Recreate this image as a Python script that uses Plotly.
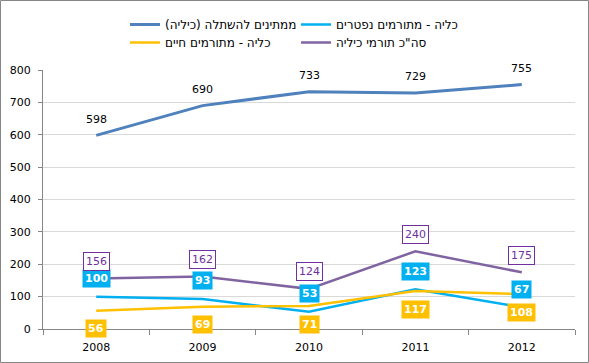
import plotly.graph_objects as go

years = ["2008", "2009", "2010", "2011", "2012"]
waiting = [598, 690, 733, 729, 755]
deceased = [100, 93, 53, 123, 67]
living = [56, 69, 71, 117, 108]
total = [156, 162, 124, 240, 175]

names = [
    "ממתינים להשתלה (כיליה)\u200f",
    "כליה - מתורמים נפטרים",
    "כליה - מתורמים חיים",
    "סה\"כ תורמי כיליה",
]

C_DARK = "#4F81BD"
C_LIGHT = "#00B0F0"
C_YEL = "#FFC000"
C_PUR = "#8064A2"
C_PUR_TXT = "#7030A0"
FONT = "DejaVu Sans"

W, H = 589, 363
ML, MR, MT, MB = 43, 14, 70, 34
PW, PH = W - ML - MR, H - MT - MB

fig = go.Figure()
fig.add_trace(go.Scatter(x=years, y=waiting, name=names[0], mode="lines",
                         line=dict(color=C_DARK, width=3), legend="legend"))
fig.add_trace(go.Scatter(x=years, y=deceased, name=names[1], mode="lines",
                         line=dict(color=C_LIGHT, width=2.5), legend="legend"))
fig.add_trace(go.Scatter(x=years, y=living, name=names[2], mode="lines",
                         line=dict(color=C_YEL, width=2.5), legend="legend2"))
fig.add_trace(go.Scatter(x=years, y=total, name=names[3], mode="lines",
                         line=dict(color=C_PUR, width=2.5), legend="legend2"))

ann = []
for i, v in enumerate(waiting):
    ann.append(dict(x=i, y=v, text=str(v), showarrow=False, yshift=16,
                    font=dict(family=FONT, size=11, color="#000000")))
for i, v in enumerate(deceased):
    ann.append(dict(x=i, y=v, text="<b>%d</b>" % v, showarrow=False, yshift=18,
                    bgcolor=C_LIGHT, borderpad=2,
                    font=dict(family=FONT, size=11, color="#FFFFFF")))
for i, v in enumerate(living):
    ann.append(dict(x=i, y=v, text="<b>%d</b>" % v, showarrow=False, yshift=-18,
                    bgcolor=C_YEL, borderpad=2,
                    font=dict(family=FONT, size=11, color="#FFFFFF")))
for i, v in enumerate(total):
    ann.append(dict(x=i, y=v, text=str(v), showarrow=False, yshift=17,
                    bgcolor="#FFFFFF", bordercolor=C_PUR_TXT, borderwidth=1, borderpad=2,
                    font=dict(family=FONT, size=11, color=C_PUR_TXT)))

fig.update_layout(
    width=W, height=H,
    margin=dict(l=ML, r=MR, t=MT, b=MB, autoexpand=False),
    paper_bgcolor="#FFFFFF", plot_bgcolor="#FFFFFF",
    font=dict(family=FONT, size=11, color="#000000"),
    annotations=ann,
    legend=dict(orientation="h", x=(125 - ML) / PW, xanchor="left",
                y=1 + (MT - 10) / PH, yanchor="top",
                entrywidth=126, entrywidthmode="pixels",
                font=dict(family=FONT, size=12), bgcolor="rgba(0,0,0,0)"),
    legend2=dict(orientation="h", x=(125 - ML) / PW, xanchor="left",
                 y=1 + (MT - 28) / PH, yanchor="top",
                 entrywidth=126, entrywidthmode="pixels",
                 font=dict(family=FONT, size=12), bgcolor="rgba(0,0,0,0)"),
    xaxis=dict(type="category", range=[-0.5, 4.5], tickson="boundaries",
               ticks="outside", ticklen=5, ticklabelstandoff=8,
               tickcolor="#868686", showline=True, linecolor="#868686", linewidth=1,
               showgrid=False, tickfont=dict(family=FONT, size=11)),
    yaxis=dict(range=[0, 800], dtick=100, ticks="outside", ticklen=4,
               ticklabelstandoff=5,
               tickcolor="#868686", showline=True, linecolor="#868686", linewidth=1,
               showgrid=True, gridcolor="#D9D9D9", gridwidth=1, zeroline=False,
               tickfont=dict(family=FONT, size=11)),
    shapes=[dict(type="rect", xref="paper", yref="paper",
                 x0=(0.5 - ML) / PW, x1=(W - 0.5 - ML) / PW,
                 y0=-(MB - 0.5) / PH, y1=1 + (MT - 0.5) / PH,
                 line=dict(color="#868686", width=1), layer="below")],
)

fig.write_html("out.html", config={"displayModeBar": False},
               post_script="document.body.style.margin='0';document.body.style.overflow='hidden';")
